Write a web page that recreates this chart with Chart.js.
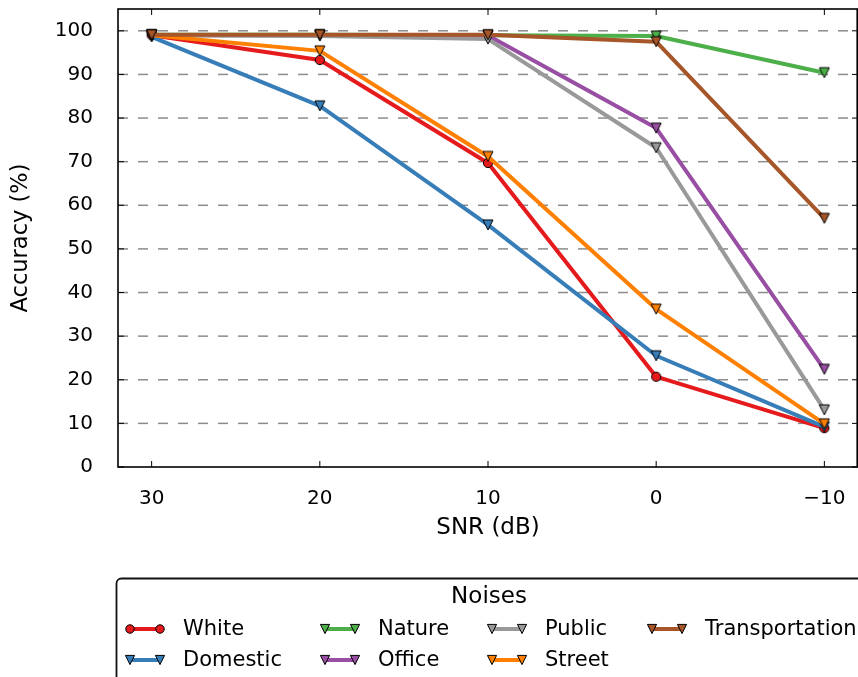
<!DOCTYPE html>
<html>
<head>
<meta charset="utf-8">
<script src="https://cdn.jsdelivr.net/npm/chart.js@4.4.0/dist/chart.umd.min.js"></script>
<style>
  html, body { margin: 0; padding: 0; background: #fff; }
  canvas { display: block; }
</style>
</head>
<body>
<canvas id="chart" width="858" height="677"></canvas>
<script>
// SNR levels (dB) on the x axis
const snrLevels = [30, 20, 10, 0, -10];
const xTickValues = [30, 20, 10, 0, -10];
const xTickLabels = ['30', '20', '10', '0', '\u221210'];
const yTickValues = [0, 10, 20, 30, 40, 50, 60, 70, 80, 90, 100];

// Accuracy (%) per noise type
const seriesNames = ['White', 'Domestic', 'Nature', 'Office', 'Public', 'Street', 'Transportation'];
const whiteAcc = [99.0, 93.3, 69.7, 20.7, 8.9];
const domesticAcc = [98.6, 82.8, 55.5, 25.5, 9.2];
const natureAcc = [99.1, 99.1, 99.0, 98.8, 90.4];
const officeAcc = [99.0, 99.0, 98.9, 77.7, 22.4];
const publicAcc = [99.0, 98.8, 98.1, 73.2, 13.1];
const streetAcc = [99.0, 95.4, 71.2, 36.2, 9.9];
const transportationAcc = [99.1, 99.1, 99.1, 97.5, 57.0];

const seriesValues = [whiteAcc, domesticAcc, natureAcc, officeAcc, publicAcc, streetAcc, transportationAcc];
const seriesColors = ['#e41a1c', '#377eb8', '#4daf4a', '#984ea3', '#999999', '#ff7f00', '#a65628'];
const seriesMarkers = ['circle', 'tri', 'tri', 'tri', 'tri', 'tri', 'tri'];

const FONT = "'DejaVu Sans', 'Liberation Sans', sans-serif";

// Small marker sprites: down-pointing triangle or circle with a thin black edge
function makeMarker(color, shape, size) {
  const c = document.createElement('canvas');
  const dim = Math.ceil(size * 2 + 4);
  c.width = dim; c.height = dim;
  const g = c.getContext('2d');
  const m = dim / 2;
  g.beginPath();
  if (shape === 'circle') {
    g.arc(m, m, size * 0.92, 0, Math.PI * 2);
  } else {
    g.moveTo(m - size, m - size);
    g.lineTo(m + size, m - size);
    g.lineTo(m, m + size);
    g.closePath();
  }
  g.fillStyle = color;
  g.fill();
  g.lineWidth = 1;
  g.strokeStyle = '#000';
  g.lineJoin = 'miter';
  g.stroke();
  return c;
}

const plotMarkers = seriesColors.map((col, i) => makeMarker(col, seriesMarkers[i], 5));
const legendMarkers = seriesColors.map((col, i) => makeMarker(col, seriesMarkers[i], 4.6));

const datasets = seriesNames.map((name, i) => ({
  label: name,
  data: snrLevels.map((x, k) => ({ x: x, y: seriesValues[i][k] })),
  borderColor: seriesColors[i],
  backgroundColor: seriesColors[i],
  borderWidth: 4,
  borderJoinStyle: 'round',
  borderCapStyle: 'butt',
  tension: 0,
  fill: false,
  pointStyle: plotMarkers[i],
  pointRadius: 5,
  pointHoverRadius: 5,
  // later series are painted over earlier ones
  order: seriesNames.length - i
}));

// Dashed horizontal grid, axes frame with inward ticks, and the boxed legend
const frameAndLegend = {
  id: 'frameAndLegend',
  beforeDatasetsDraw(chart) {
    const { ctx, chartArea: a, scales } = chart;
    ctx.save();
    ctx.strokeStyle = '#8c8c8c';
    ctx.lineWidth = 1.5;
    ctx.setLineDash([10, 10]);
    yTickValues.forEach(v => {
      if (v === 0) return;
      const y = scales.y.getPixelForValue(v);
      ctx.beginPath();
      ctx.moveTo(a.left, y);
      ctx.lineTo(a.right, y);
      ctx.stroke();
    });
    ctx.restore();
  },
  afterDatasetsDraw(chart) {
    const { ctx, chartArea: a, scales } = chart;
    ctx.save();
    ctx.strokeStyle = '#000';
    ctx.lineWidth = 1;
    const tl = 6;
    xTickValues.forEach(v => {
      const x = scales.x.getPixelForValue(v);
      ctx.beginPath();
      ctx.moveTo(x, a.bottom); ctx.lineTo(x, a.bottom - tl);
      ctx.moveTo(x, a.top); ctx.lineTo(x, a.top + tl);
      ctx.stroke();
    });
    yTickValues.forEach(v => {
      const y = scales.y.getPixelForValue(v);
      ctx.beginPath();
      ctx.moveTo(a.left, y); ctx.lineTo(a.left + tl, y);
      ctx.moveTo(a.right, y); ctx.lineTo(a.right - tl, y);
      ctx.stroke();
    });
    ctx.lineWidth = 1.6;
    ctx.strokeRect(a.left, a.top, a.right - a.left - 0.8, a.bottom - a.top);
    ctx.restore();
  },
  afterDraw(chart) {
    const ctx = chart.ctx;
    const box = { x: 116.5, y: 578.5, w: 760, h: 140, r: 5 };
    ctx.save();
    ctx.beginPath();
    ctx.roundRect(box.x, box.y, box.w, box.h, box.r);
    ctx.fillStyle = '#fff';
    ctx.fill();
    ctx.lineWidth = 1.8;
    ctx.strokeStyle = '#111';
    ctx.stroke();

    ctx.fillStyle = '#000';
    ctx.textAlign = 'center';
    ctx.textBaseline = 'middle';
    ctx.font = '23px ' + FONT;
    ctx.fillText('Noises', 489, 597);

    const colX = [130, 325, 492, 652];
    const rowY = [629, 660];
    ctx.font = '21px ' + FONT;
    ctx.textAlign = 'left';
    chart.data.datasets.forEach((ds, i) => {
      const x0 = colX[Math.floor(i / 2)];
      const y = rowY[i % 2];
      const x1 = x0 + 30;
      ctx.beginPath();
      ctx.moveTo(x0, y); ctx.lineTo(x1, y);
      ctx.lineWidth = 4;
      ctx.strokeStyle = ds.borderColor;
      ctx.stroke();
      [x0, x1].forEach(px => {
        const mk = legendMarkers[i];
        ctx.drawImage(mk, px - mk.width / 2, y - mk.height / 2);
      });
      ctx.fillStyle = '#000';
      ctx.fillText(ds.label, x0 + 53, y + 1);
    });
    ctx.restore();
  }
};

Chart.defaults.font.family = FONT;
Chart.defaults.color = '#000';

new Chart(document.getElementById('chart'), {
  type: 'line',
  data: { datasets: datasets },
  options: {
    responsive: false,
    animation: false,
    events: [],
    layout: { autoPadding: false, padding: { top: 9, right: 0, bottom: 133, left: 0 } },
    plugins: { legend: { display: false }, tooltip: { enabled: false } },
    scales: {
      x: {
        type: 'linear',
        reverse: true,
        min: -12,
        max: 32,
        afterBuildTicks: s => { s.ticks = xTickValues.map(v => ({ value: v })); },
        afterFit: s => { s.height = 77; s.paddingLeft = 0; s.paddingRight = 0; },
        grid: { display: false },
        border: { display: false },
        ticks: {
          padding: 12,
          font: { size: 20 },
          color: '#000',
          callback: (v) => xTickLabels[xTickValues.indexOf(v)]
        },
        title: { display: true, text: 'SNR (dB)', font: { size: 23 }, color: '#000', padding: { top: 4, bottom: 2 } }
      },
      y: {
        type: 'linear',
        min: 0,
        max: 105,
        afterBuildTicks: s => { s.ticks = yTickValues.map(v => ({ value: v })); },
        afterFit: s => { s.width = 118; s.paddingTop = 0; s.paddingBottom = 0; },
        grid: { display: false },
        border: { display: false },
        ticks: { padding: 17, font: { size: 20 }, color: '#000' },
        title: { display: true, text: 'Accuracy (%)', font: { size: 22.5 }, color: '#000', padding: { top: 8, bottom: 0 } }
      }
    }
  },
  plugins: [frameAndLegend]
});
</script>
</body>
</html>
